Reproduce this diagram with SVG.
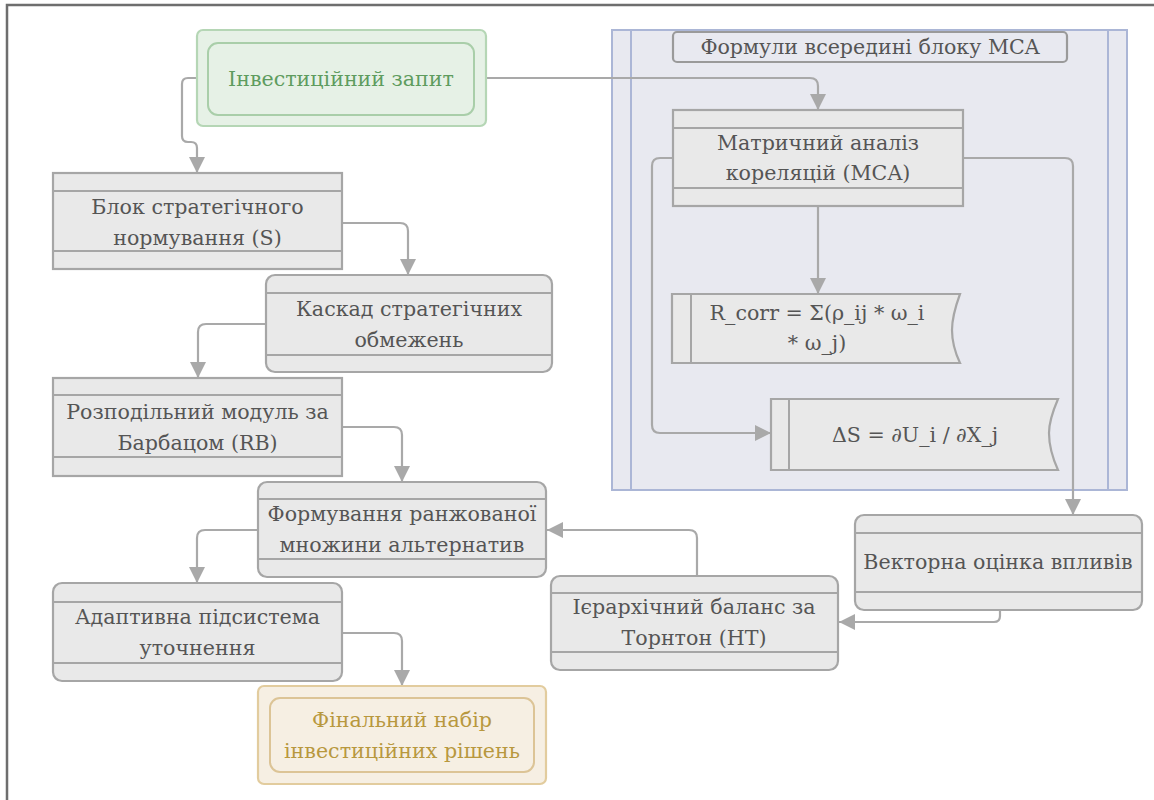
<svg xmlns="http://www.w3.org/2000/svg" width="1154" height="800" viewBox="0 0 1154 800">
  <style>
    .box { fill: #e9e9e9; stroke: #a6a6a6; stroke-width: 2.2; }
    .sep { stroke: #a6a6a6; stroke-width: 2; fill: none; }
    .lbl { font-family: 'DejaVu Serif', 'Liberation Serif', serif; font-size: 20.6px; fill: #555555; text-anchor: middle; dominant-baseline: central; }
    .edge { fill: none; stroke: #a9a9a9; stroke-width: 2.2; marker-end: url(#arrow); }
    .start-outer { fill: #e6f1e6; stroke: #b5d6b5; stroke-width: 2.2; }
    .start-inner { fill: #e6f1e6; stroke: #a9cea9; stroke-width: 2; }
    .end-outer { fill: #f6efe3; stroke: #e2cc9e; stroke-width: 2.2; }
    .end-inner { fill: #f6efe3; stroke: #dcc496; stroke-width: 2; }
  </style>
  <defs>
    <marker id="arrow" viewBox="0 0 10 10" refX="10" refY="5" markerWidth="16" markerHeight="16" markerUnits="userSpaceOnUse" orient="auto">
      <path d="M0,0 L10,5 L0,10 z" fill="#a9a9a9"/>
    </marker>
  </defs>

  <rect x="0" y="0" width="1154" height="800" fill="#ffffff"/>
  <!-- outer frame -->
  <rect x="7" y="5" width="1200" height="900" fill="none" stroke="#6e6e6e" stroke-width="2.5"/>

  <!-- MCA container -->
  <g id="mca-container">
    <rect x="612" y="30" width="515" height="460" fill="#e8e9f0" stroke="#abb6d6" stroke-width="2"/>
    <line x1="631" y1="30" x2="631" y2="490" stroke="#abb6d6" stroke-width="2"/>
    <line x1="1108" y1="30" x2="1108" y2="490" stroke="#abb6d6" stroke-width="2"/>
    <rect x="673" y="32" width="394" height="30" rx="4" fill="#e8e9f0" stroke="#9a9a9a" stroke-width="2.2"/>
    <text class="lbl" x="870" y="47">Формули всередині блоку MCA</text>
  </g>

  <!-- connectors -->
  <g id="connectors">
    <path class="edge" d="M196,78 H188 Q182,78 182,84 V136 Q182,142 188,142 H191 Q197,142 197,148 V173"/>
    <path class="edge" d="M486,78 H810 Q818,78 818,86 V110"/>
    <path class="edge" d="M342,223 H400 Q408,223 408,231 V275"/>
    <path class="edge" d="M266,324 H206 Q198,324 198,332 V378"/>
    <path class="edge" d="M342,427 H394 Q402,427 402,435 V482"/>
    <path class="edge" d="M258,530 H205 Q197,530 197,538 V583"/>
    <path class="edge" d="M342,633 H394 Q402,633 402,641 V686"/>
    <path class="edge" d="M697,576 V538 Q697,530 689,530 H547"/>
    <path class="edge" d="M1000,610 V616 Q1000,622 994,622 H839"/>
    <path class="edge" d="M818,206 V294"/>
    <path class="edge" d="M673,158 H660 Q652,158 652,166 V425 Q652,433 660,433 H771"/>
    <path class="edge" d="M963,158 H1065 Q1073,158 1073,166 V515"/>
  </g>

  <!-- start node -->
  <g id="n-request">
    <rect class="start-outer" x="197" y="30" width="289" height="96" rx="6"/>
    <rect class="start-inner" x="208" y="43" width="266" height="72" rx="10"/>
    <text class="lbl" x="341" y="79" style="fill:#5e9c5e">Інвестиційний запит</text>
  </g>

  <g id="n-strategic-norm">
    <rect class="box" x="53" y="173" width="289" height="96"/>
    <line class="sep" x1="53" y1="191" x2="342" y2="191"/>
    <line class="sep" x1="53" y1="251" x2="342" y2="251"/>
    <text class="lbl" x="197.5" y="207">Блок стратегічного</text>
    <text class="lbl" x="197.5" y="238">нормування (S)</text>
  </g>

  <g id="n-cascade">
    <rect class="box" x="266" y="275" width="286" height="97" rx="9"/>
    <line class="sep" x1="266" y1="293" x2="552" y2="293"/>
    <line class="sep" x1="266" y1="355" x2="552" y2="355"/>
    <text class="lbl" x="409" y="309">Каскад стратегічних</text>
    <text class="lbl" x="409" y="340">обмежень</text>
  </g>

  <g id="n-barbatz">
    <rect class="box" x="53" y="378" width="289" height="98"/>
    <line class="sep" x1="53" y1="395" x2="342" y2="395"/>
    <line class="sep" x1="53" y1="457" x2="342" y2="457"/>
    <text class="lbl" x="197.5" y="412">Розподільний модуль за</text>
    <text class="lbl" x="197.5" y="443">Барбацом (RB)</text>
  </g>

  <g id="n-ranked">
    <rect class="box" x="258" y="482" width="288" height="95" rx="9"/>
    <line class="sep" x1="258" y1="499" x2="546" y2="499"/>
    <line class="sep" x1="258" y1="559" x2="546" y2="559"/>
    <text class="lbl" x="402" y="514">Формування ранжованої</text>
    <text class="lbl" x="402" y="545">множини альтернатив</text>
  </g>

  <g id="n-adaptive">
    <rect class="box" x="53" y="583" width="289" height="98" rx="9"/>
    <line class="sep" x1="53" y1="602" x2="342" y2="602"/>
    <line class="sep" x1="53" y1="663" x2="342" y2="663"/>
    <text class="lbl" x="197.5" y="617">Адаптивна підсистема</text>
    <text class="lbl" x="197.5" y="648">уточнення</text>
  </g>

  <g id="n-final">
    <rect class="end-outer" x="258" y="686" width="288" height="98" rx="6"/>
    <rect class="end-inner" x="270" y="698" width="264" height="74" rx="10"/>
    <text class="lbl" x="402" y="720" style="fill:#b8983e">Фінальний набір</text>
    <text class="lbl" x="402" y="751" style="fill:#b8983e">інвестиційних рішень</text>
  </g>

  <g id="n-thornton">
    <rect class="box" x="551" y="576" width="287" height="94" rx="9"/>
    <line class="sep" x1="551" y1="593" x2="838" y2="593"/>
    <line class="sep" x1="551" y1="652" x2="838" y2="652"/>
    <text class="lbl" x="694" y="607">Ієрархічний баланс за</text>
    <text class="lbl" x="694" y="638">Торнтон (HT)</text>
  </g>

  <g id="n-vector">
    <rect class="box" x="855" y="515" width="287" height="95" rx="9"/>
    <line class="sep" x1="855" y1="533" x2="1142" y2="533"/>
    <line class="sep" x1="855" y1="592" x2="1142" y2="592"/>
    <text class="lbl" x="998" y="562">Векторна оцінка впливів</text>
  </g>

  <g id="n-mca">
    <rect class="box" x="673" y="110" width="290" height="96"/>
    <line class="sep" x1="673" y1="128" x2="963" y2="128"/>
    <line class="sep" x1="673" y1="188" x2="963" y2="188"/>
    <text class="lbl" x="818" y="143">Матричний аналіз</text>
    <text class="lbl" x="818" y="173">кореляцій (MCA)</text>
  </g>

  <g id="n-rcorr">
    <path class="box" d="M672,294 H960 Q952,316 952,330 Q952,346 960,363 H672 Z"/>
    <line class="sep" x1="691" y1="294" x2="691" y2="363"/>
    <text class="lbl" x="817" y="313">R_corr = Σ(ρ_ij * ω_i</text>
    <text class="lbl" x="817" y="343">* ω_j)</text>
  </g>

  <g id="n-delta">
    <path class="box" d="M771,399 H1058 Q1049,420 1049,433 Q1049,450 1058,470 H771 Z"/>
    <line class="sep" x1="789" y1="399" x2="789" y2="470"/>
    <text class="lbl" x="915" y="435">ΔS = ∂U_i / ∂X_j</text>
  </g>
</svg>
